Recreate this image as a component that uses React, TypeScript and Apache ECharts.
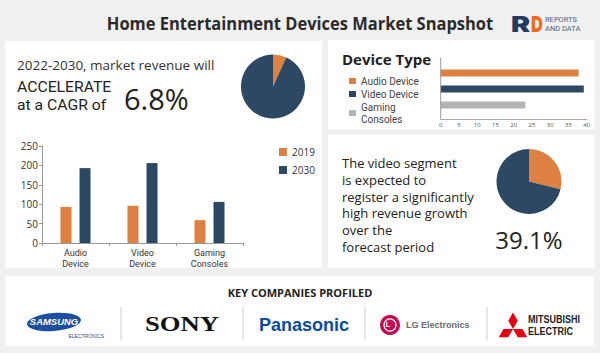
import React, { useEffect, useRef } from 'react';
import * as echarts from 'echarts';

const TITLE = 'Home Entertainment Devices Market Snapshot';
const cagrNames = ['CAGR', 'Rest'];
const cagrShare = [6.8, 93.2];
const segments = ['Audio\nDevice', 'Video\nDevice', 'Gaming\nConsoles'];
const years = ['2019', '2030'];
const revenue2019 = [93, 96, 59];
const revenue2030 = [193, 206, 106];
const deviceTypes = ['Audio Device', 'Video Device', 'Gaming Consoles'];
const deviceValues = [37.8, 39.2, 23.2];
const videoNames = ['Video', 'Other'];
const videoShare = [28.8, 71.2];

const ORANGE = '#df8043';
const NAVY = '#2c4862';
const GRAY = '#b4b4b4';
const FONT = "'Open Sans'";
const SMALL = 'Roboto';

function txt(x: number, y: number, text: string, font: string, fill: string, align = 'left', extra: any = {}) {
  return {
    type: 'text',
    x,
    y,
    z: 10,
    silent: true,
    ...extra,
    style: { text, font, fill, textAlign: align, textVerticalAlign: 'middle', ...(extra.style || {}) },
  };
}

function rect(x: number, y: number, w: number, h: number, fill: string) {
  return { type: 'rect', z: -5, silent: true, shape: { x, y, width: w, height: h }, style: { fill } };
}

function vline(x: number, y1: number, y2: number, stroke: string) {
  return { type: 'line', z: 5, silent: true, shape: { x1: x, y1, x2: x, y2 }, style: { stroke, lineWidth: 1 } };
}

function mitsubishi(cx: number, cy: number, s: number) {
  const a = s * 0.5, b = s * 0.866;
  const pts = [
    [[0, 0], [a, -b], [0, -2 * b], [-a, -b]],
    [[0, 0], [a, b], [3 * a, b], [2 * a, 0]],
    [[0, 0], [-a, b], [-3 * a, b], [-2 * a, 0]],
  ];
  return pts.map((p) => ({
    type: 'polygon',
    z: 10,
    silent: true,
    shape: { points: p.map(([x, y]) => [cx + x, cy + y]) },
    style: { fill: '#e60012' },
  }));
}

export default function App() {
  const ref = useRef<HTMLDivElement>(null);
  useEffect(() => {
    if (!ref.current) return;
    const chart = echarts.init(ref.current, undefined, { renderer: 'svg' });
    const deviceColors = [ORANGE, NAVY, GRAY];
    const option: any = {
      animation: false,
      backgroundColor: '#f0f0f0',
      textStyle: { fontFamily: FONT },
      legend: [
        {
          data: years,
          orient: 'vertical',
          left: 274,
          top: 142,
          itemWidth: 8,
          itemHeight: 8,
          itemGap: 8,
          icon: 'rect',
          textStyle: { fontSize: 10, color: '#333', fontFamily: FONT },
          selectedMode: false,
        },
        {
          data: deviceTypes,
          orient: 'vertical',
          left: 344,
          top: 70,
          itemWidth: 7,
          itemHeight: 6,
          itemGap: 1,
          icon: 'rect',
          formatter: (n: string) => (n === 'Gaming Consoles' ? 'Gaming\nConsoles' : n),
          textStyle: { fontSize: 10, lineHeight: 12, color: '#444', fontFamily: SMALL },
          selectedMode: false,
        },
      ],
      grid: [
        { left: 42, top: 146, width: 201, height: 97 },
        { left: 440.7, top: 65, width: 146, height: 48 },
      ],
      xAxis: [
        {
          gridIndex: 0,
          type: 'category',
          data: segments,
          axisLine: { lineStyle: { color: '#999' } },
          axisTick: { show: true, length: 3, lineStyle: { color: '#999' } },
          axisLabel: { interval: 0, fontSize: 9, lineHeight: 11, color: '#333', margin: 4, fontFamily: SMALL },
        },
        {
          gridIndex: 1,
          type: 'value',
          min: 0,
          max: 40,
          interval: 5,
          offset: 6,
          splitLine: { show: false },
          axisLine: { show: true, lineStyle: { color: '#aaa' } },
          axisTick: { show: false },
          axisLabel: { fontSize: 6, color: '#555', margin: 3, fontFamily: FONT },
        },
      ],
      yAxis: [
        {
          gridIndex: 0,
          type: 'value',
          min: 0,
          max: 250,
          interval: 50,
          splitLine: { show: false },
          axisLine: { show: true, lineStyle: { color: '#999' } },
          axisTick: { show: true, length: 3, lineStyle: { color: '#999' } },
          axisLabel: { fontSize: 10, color: '#333', margin: 4, fontFamily: FONT },
        },
        {
          gridIndex: 1,
          type: 'category',
          inverse: true,
          data: deviceTypes,
          axisLine: { show: false },
          axisTick: { show: false },
          axisLabel: { show: false },
        },
      ],
      series: [
        {
          type: 'pie',
          center: [273, 86.5],
          radius: 32,
          startAngle: 90,
          silent: true,
          label: { show: false },
          labelLine: { show: false },
          data: cagrNames.map((n, i) => ({ name: n, value: cagrShare[i], itemStyle: { color: i === 0 ? ORANGE : NAVY } })),
        },
        {
          type: 'pie',
          center: [529, 181.5],
          radius: 32.5,
          startAngle: 90,
          silent: true,
          label: { show: false },
          labelLine: { show: false },
          data: videoNames.map((n, i) => ({ name: n, value: videoShare[i], itemStyle: { color: i === 0 ? ORANGE : NAVY } })),
        },
        {
          name: years[0],
          type: 'bar',
          xAxisIndex: 0,
          yAxisIndex: 0,
          data: revenue2019,
          barWidth: 11,
          barGap: '73%',
          itemStyle: { color: ORANGE },
          silent: true,
        },
        {
          name: years[1],
          type: 'bar',
          xAxisIndex: 0,
          yAxisIndex: 0,
          data: revenue2030,
          barWidth: 11,
          barGap: '73%',
          itemStyle: { color: NAVY },
          silent: true,
        },
        ...deviceTypes.map((d, i) => ({
          name: d,
          type: 'bar',
          xAxisIndex: 1,
          yAxisIndex: 1,
          barWidth: 7,
          barGap: '-100%',
          silent: true,
          itemStyle: { color: deviceColors[i] },
          data: deviceValues.map((v, j) => (j === i ? v : '-')),
        })),
      ],
      graphic: [
        rect(5, 41, 317, 227, '#ffffff'),
        rect(328, 40, 267, 89, '#ffffff'),
        rect(328, 135, 267, 133, '#ffffff'),
        rect(5, 276, 589, 70, '#ffffff'),
        txt(300, 23, TITLE, `bold 18px ${FONT}`, '#2b2b2b', 'center', { scaleX: 0.915 }),
        txt(511, 24, 'R', "900 22px 'Inter'", '#243a63', 'left', { scaleX: 1.3 }),
        txt(531, 24, 'D', "900 22px 'Inter'", '#ef6b1f', 'left', { scaleX: 0.75 }),
        txt(545, 19, 'REPORTS', "7.5px 'Roboto'", '#4f5f86'),
        txt(545, 28, 'AND DATA', "7.5px 'Roboto'", '#4f5f86'),
        txt(17, 65, '2022-2030, market revenue will', `13.5px ${FONT}`, '#333'),
        txt(17, 87, 'ACCELERATE', "15px 'Roboto'", '#222', 'left', { scaleX: 1.05 }),
        txt(17, 105, 'at a CAGR of', "15px 'Roboto'", '#222', 'left', { scaleX: 1.05 }),
        txt(124, 98, '6.8%', `29px ${FONT}`, '#222'),
        vline(440.7, 58, 119, '#999'),
        txt(342, 59, 'Device Type', `bold 15px ${FONT}`, '#222'),
        {
          type: 'text',
          x: 342,
          y: 155,
          z: 10,
          silent: true,
          style: {
            text: 'The video segment\nis expected to\nregister a significantly\nhigh revenue growth\nover the\nforecast period',
            font: `13px ${FONT}`,
            lineHeight: 16.7,
            fill: '#222',
            textAlign: 'left',
            textVerticalAlign: 'top',
          },
        },
        txt(529, 239, '39.1%', `24px ${FONT}`, '#222', 'center'),
        txt(300, 292, 'KEY COMPANIES PROFILED', `bold 11px ${FONT}`, '#222', 'center'),
        vline(121, 307, 340, '#cfcfcf'),
        vline(243, 307, 340, '#cfcfcf'),
        vline(365, 307, 340, '#cfcfcf'),
        vline(487, 307, 340, '#cfcfcf'),
        { type: 'ellipse', z: 10, silent: true, rotation: 0.08, x: 54, y: 322, shape: { cx: 0, cy: 0, rx: 27, ry: 9 }, style: { fill: '#1d4ea0' } },
        txt(54, 322, 'SAMSUNG', "italic bold 9px 'Liberation Sans'", '#ffffff', 'center', { scaleX: 1.05 }),
        txt(104, 336, 'ELECTRONICS', "5px 'Liberation Sans'", '#1d4ea0', 'right'),
        txt(182, 324, 'SONY', "bold 21px 'Liberation Serif'", '#111', 'center', { scaleX: 1.27 }),
        txt(304, 324, 'Panasonic', "bold 19px 'Liberation Sans'", '#0a4ca0', 'center', { scaleX: 0.95 }),
        { type: 'circle', z: 10, silent: true, shape: { cx: 390, cy: 325, r: 10 }, style: { fill: '#c4094f' } },
        { type: 'circle', z: 11, silent: true, shape: { cx: 390, cy: 325, r: 6 }, style: { fill: 'none', stroke: '#ffffff', lineWidth: 1.2 } },
        txt(388, 324.5, 'L', "bold 7px 'Liberation Sans'", '#ffffff', 'center', { z: 12 }),
        txt(406, 325, 'LG Electronics', "bold 9px 'Liberation Sans'", '#6b6b6b'),
        ...mitsubishi(513, 329, 9.5),
        txt(528, 319, 'MITSUBISHI', "bold 11px 'Liberation Sans'", '#222', 'left', { scaleX: 0.82 }),
        txt(528, 331, 'ELECTRIC', "bold 11px 'Liberation Sans'", '#222', 'left', { scaleX: 0.82 }),
      ],
    };
    chart.setOption(option);
    return () => chart.dispose();
  }, []);
  return <div ref={ref} style={{ position: 'fixed', left: 0, top: 0, width: 600, height: 353 }} />;
}
